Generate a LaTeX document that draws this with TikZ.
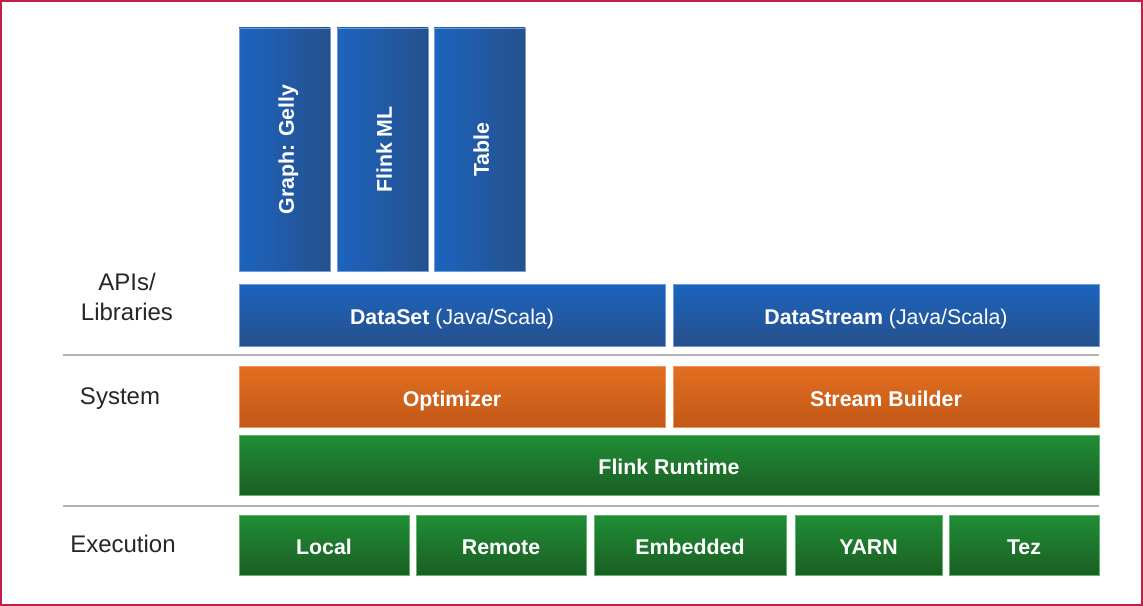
\documentclass[tikz,border=0pt]{standalone}
\usepackage{fontspec}
\setmainfont{Liberation Sans}
\usetikzlibrary{positioning}

\definecolor{frameRed}{RGB}{192,32,72}
\definecolor{sepGray}{RGB}{178,178,178}
\definecolor{blueTop}{RGB}{28,100,190}
\definecolor{blueBot}{RGB}{38,80,140}
\definecolor{blueEdge}{RGB}{110,155,220}
\definecolor{orangeTop}{RGB}{226,110,32}
\definecolor{orangeBot}{RGB}{193,88,24}
\definecolor{orangeEdge}{RGB}{240,150,90}
\definecolor{greenTop}{RGB}{32,142,54}
\definecolor{greenBot}{RGB}{26,94,35}
\definecolor{greenEdge}{RGB}{100,180,110}

\tikzset{
	boxfont/.style={text=white, font=\bfseries\fontsize{16}{18}\selectfont, text height=14pt, text depth=0pt},
	blk/.style={line width=0.6pt, inner sep=0pt, boxfont},
	apibox/.style={blk, draw=blueEdge, top color=blueTop, bottom color=blueBot},
	libbox/.style={blk, draw=blueEdge, left color=blueTop, right color=blueBot},
	sysbox/.style={blk, draw=orangeEdge, top color=orangeTop, bottom color=orangeBot},
	runbox/.style={blk, draw=greenEdge, top color=greenTop, bottom color=greenBot},
	layertext/.style={text=black!85, font=\fontsize{18}{22}\selectfont, align=center},
	sepline/.style={draw=sepGray, line width=1.5pt}
}

\begin{document}
\begin{tikzpicture}[x=0.75pt,y=0.75pt,yscale=-1,xscale=1]
	\useasboundingbox (0,0) rectangle (1143,606);
	\draw [frameRed, line width=1.5pt] (1,1) rectangle (1142,605);
	% libraries
	\node [libbox, minimum width=91*0.75pt, minimum height=243*0.75pt, label={[rotate=90, boxfont]center:Graph: Gelly}] (gelly) at (284.5,149.5) {};
	\node [libbox, minimum width=91*0.75pt, minimum height=243*0.75pt, label={[rotate=90, boxfont]center:Flink ML}] (flinkml) at (382.5,149.5) {};
	\node [libbox, minimum width=91*0.75pt, minimum height=243*0.75pt, label={[rotate=90, boxfont]center:Table}] (table) at (479.5,149.5) {};
	% APIs
	\node [apibox, minimum width=426*0.75pt, minimum height=62*0.75pt] (dataset) at (452,315) {DataSet \mdseries(Java/Scala)};
	\node [apibox, minimum width=426*0.75pt, minimum height=62*0.75pt] (datastream) at (886,315) {DataStream \mdseries(Java/Scala)};
	\draw [sepline] (63,355) -- (1099,355);
	% system
	\node [sysbox, minimum width=426*0.75pt, minimum height=61*0.75pt] (optimizer) at (452,397) {Optimizer};
	\node [sysbox, minimum width=426*0.75pt, minimum height=61*0.75pt] (streambuilder) at (886,397) {Stream Builder};
	\node [runbox, minimum width=860*0.75pt, minimum height=60*0.75pt] (runtime) at (669,465) {Flink Runtime};
	\draw [sepline] (63,506) -- (1099,506);
	% execution
	\node [runbox, minimum width=170*0.75pt, minimum height=60*0.75pt] (local) at (324,545) {Local};
	\node [runbox, minimum width=170*0.75pt, minimum height=60*0.75pt] (remote) at (501,545) {Remote};
	\node [runbox, minimum width=192*0.75pt, minimum height=60*0.75pt] (embedded) at (690,545) {Embedded};
	\node [runbox, minimum width=147*0.75pt, minimum height=60*0.75pt] (yarn) at (868.5,545) {YARN};
	\node [runbox, minimum width=150*0.75pt, minimum height=60*0.75pt] (tez) at (1024,545) {Tez};
	% layer labels
	\node [layertext] (apis) at (127,297) {APIs/\\Libraries};
	\node [layertext] (system) at (120,399) {System};
	\node [layertext] (execution) at (123,544) {Execution};
\end{tikzpicture}
\end{document}
